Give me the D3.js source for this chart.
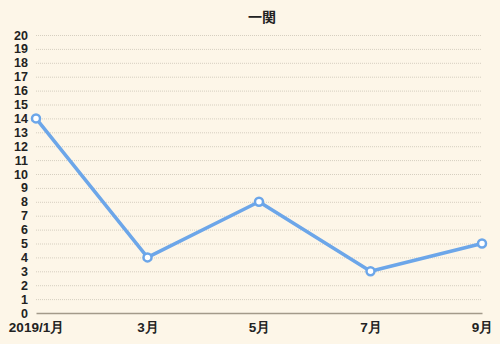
<!DOCTYPE html>
<html>
<head>
<meta charset="utf-8">
<script src="https://cdn.jsdelivr.net/npm/d3@7"></script>
<style>
  body { margin: 0; background: #fdf6e8; }
  svg { display: block; font-family: "Noto Sans CJK JP", "Noto Sans", sans-serif; }
</style>
</head>
<body>
<div class="canvas"></div>
<script>
const months = ['2019/1月', '3月', '5月', '7月', '9月'];
const values = [14, 4, 8, 3, 5];
const yTicks = d3.range(0, 21);

const size = { width: 500, height: 344 };
const margin = { top: 35, right: 18, bottom: 31, left: 36 };

// svg container
const svg = d3.select('.canvas')
  .append('svg')
  .attr('width', size.width)
  .attr('height', size.height);

svg.append('rect')
  .attr('width', size.width)
  .attr('height', size.height)
  .attr('fill', '#fdf6e8');

const x = d3.scalePoint()
  .domain(months)
  .range([margin.left, size.width - margin.right]);

const y = d3.scaleLinear()
  .domain([0, 20])
  .range([size.height - margin.bottom, margin.top]);

// title
svg.append('text')
  .attr('x', 262)
  .attr('y', 22)
  .attr('text-anchor', 'middle')
  .attr('font-size', 14)
  .attr('font-weight', 'bold')
  .attr('fill', '#222')
  .text('一関');

// dotted grid lines
svg.append('g')
  .selectAll('line')
  .data(yTicks.filter(d => d > 0))
  .enter()
  .append('line')
    .attr('x1', margin.left)
    .attr('x2', size.width - margin.right)
    .attr('y1', d => y(d) + 0.5)
    .attr('y2', d => y(d) + 0.5)
    .attr('stroke', '#d6cfc0')
    .attr('stroke-width', 1)
    .attr('stroke-dasharray', '1,1');

// y labels
const yAxis = d3.axisLeft(y)
  .tickValues(yTicks)
  .tickSize(0)
  .tickPadding(8);

svg.append('g')
  .attr('transform', `translate(${margin.left},0)`)
  .call(yAxis)
  .call(g => g.select('.domain').remove())
  .selectAll('text')
    .attr('font-size', 12.5)
    .attr('font-weight', 'bold')
    .attr('fill', '#222')
    .attr('font-family', '"Liberation Sans", Arial, sans-serif');

// x axis
const xAxis = d3.axisBottom(x)
  .tickSize(0)
  .tickPadding(9);

svg.append('g')
  .attr('transform', `translate(0,${y(0)})`)
  .call(xAxis)
  .call(g => g.select('.domain')
    .attr('stroke', '#a39a8a')
    .attr('stroke-width', 1.5))
  .selectAll('text')
    .attr('font-size', 13.5)
    .attr('font-weight', 'bold')
    .attr('fill', '#222');

// line
const line = d3.line()
  .x((d, i) => x(months[i]))
  .y(d => y(d));

svg.append('path')
  .datum(values)
  .attr('d', line)
  .attr('fill', 'none')
  .attr('stroke', '#6ca6e9')
  .attr('stroke-width', 3.5)
  .attr('stroke-linejoin', 'round');

svg.append('g')
  .selectAll('circle')
  .data(values)
  .enter()
  .append('circle')
    .attr('cx', (d, i) => x(months[i]))
    .attr('cy', d => y(d))
    .attr('r', 4)
    .attr('fill', '#fff')
    .attr('stroke', '#6ca6e9')
    .attr('stroke-width', 2.5);
</script>
</body>
</html>
